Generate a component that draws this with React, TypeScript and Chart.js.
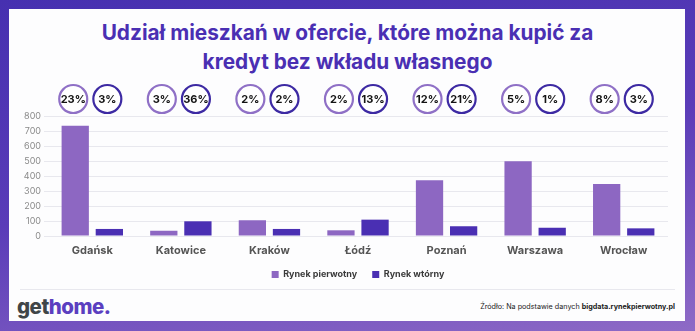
import React, { useEffect, useRef } from "react";
import { Chart, registerables } from "chart.js";

Chart.register(...registerables);

const categories = ["Gdańsk", "Katowice", "Kraków", "Łódź", "Poznań", "Warszawa", "Wrocław"];
const primaryValues = [735, 35, 105, 38, 371, 498, 347];
const secondaryValues = [47, 98, 47, 109, 65, 55, 51];
const primaryShare = ["23%", "3%", "2%", "2%", "12%", "5%", "8%"];
const secondaryShare = ["3%", "36%", "2%", "13%", "21%", "1%", "3%"];
const seriesNames = ["Rynek pierwotny", "Rynek wtórny"];

const PRIMARY = "#8d67c2";
const SECONDARY = "#4a2fb3";
const FONT = "Inter, 'Noto Sans', sans-serif";

const circlesPlugin = {
  id: "shareCircles",
  afterLayout(chart: any) {
    // center the legend on the plot area
    if (chart.legend) {
      chart.legend.left = chart.chartArea.left;
      chart.legend.right = chart.chartArea.right;
    }
  },
  afterDatasetsDraw(chart: any) {
    const ctx = chart.ctx;
    const shares = [primaryShare, secondaryShare];
    const borders = ["#8f70c6", "#3d2aa3"];
    const y = chart.chartArea.top - 17;
    chart.data.datasets.forEach((_: any, di: number) => {
      const meta = chart.getDatasetMeta(di);
      meta.data.forEach((bar: any, i: number) => {
        ctx.save();
        ctx.beginPath();
        ctx.arc(bar.x - 2, y, 14, 0, Math.PI * 2);
        ctx.fillStyle = "#ffffff";
        ctx.fill();
        ctx.lineWidth = 2.2;
        ctx.strokeStyle = borders[di];
        ctx.stroke();
        ctx.fillStyle = "#141414";
        ctx.font = `700 11px ${FONT}`;
        ctx.textAlign = "center";
        ctx.textBaseline = "middle";
        ctx.fillText(shares[di][i], bar.x - 2, y + 1);
        ctx.restore();
      });
    });
  },
};

function BarChart() {
  const ref = useRef<HTMLCanvasElement | null>(null);
  useEffect(() => {
    if (!ref.current) return;
    const chart = new Chart(ref.current, {
      type: "bar",
      data: {
        labels: categories,
        datasets: [
          { label: seriesNames[0], data: primaryValues, backgroundColor: PRIMARY },
          { label: seriesNames[1], data: secondaryValues, backgroundColor: SECONDARY },
        ],
      },
      options: {
        animation: false,
        responsive: false,
        maintainAspectRatio: false,
        layout: { padding: { top: 36, right: 17, left: 0, bottom: 0 } },
        datasets: { bar: { categoryPercentage: 0.77, barPercentage: 0.8 } } as any,
        plugins: {
          tooltip: { enabled: false },
          legend: {
            position: "bottom",
            maxHeight: 30,
            labels: {
              boxWidth: 7,
              boxHeight: 7,
              padding: 15,
              color: "#3a3a3a",
              font: { family: FONT, size: 9, weight: "bold" as any },
            },
          },
        },
        scales: {
          x: {
            afterFit: (s: any) => {
              s.height = 19;
            },
            grid: { display: false, drawTicks: false },
            border: { display: false },
            ticks: {
              color: "#555555",
              padding: 8,
              font: { family: FONT, size: 11, weight: "bold" as any },
            },
          },
          y: {
            min: 0,
            max: 800,
            afterFit: (s: any) => {
              s.width = 39;
            },
            grid: { color: "#e8e8ee", tickLength: 4, lineWidth: 1 },
            border: { display: false },
            ticks: {
              stepSize: 100,
              autoSkip: false,
              padding: 3,
              color: "#8a8a8a",
              font: { family: FONT, size: 9 },
            },
          },
        },
      },
      plugins: [circlesPlugin],
    });
    return () => chart.destroy();
  }, []);
  return <canvas ref={ref} width={676} height={205} style={{ position: "absolute", left: 9, top: 80 }} />;
}

export default function App() {
  return (
    <div
      style={{
        position: "fixed",
        left: 0,
        top: 0,
        width: 695,
        height: 331,
        background: "linear-gradient(170deg, #4630b0 0%, #5a3cb8 50%, #8e6ac6 100%)",
        fontFamily: FONT,
        overflow: "hidden",
      }}
    >
      <div
        style={{
          position: "absolute",
          left: 9,
          top: 9,
          width: 676,
          height: 312,
          background: "#fdfdfe",
        }}
      />
      <div
        style={{
          position: "absolute",
          left: 0,
          top: 18,
          width: 695,
          textAlign: "center",
          color: "#4a2fb3",
          fontWeight: 700,
          fontSize: 20.8,
          lineHeight: "29px",
        }}
      >
        Udział mieszkań w ofercie, które można kupić za
        <br />
        kredyt bez wkładu własnego
      </div>
      <BarChart />
      <div style={{ position: "absolute", left: 20, top: 289, width: 655, height: 1, background: "#e8e8ee" }} />
      <div
        style={{
          position: "absolute",
          left: 17,
          top: 295,
          fontSize: 20.5,
          fontWeight: 800,
          letterSpacing: "-0.5px",
          lineHeight: "24px",
        }}
      >
        <span style={{ color: "#3f4548" }}>get</span>
        <span style={{ color: "#5b3fc0" }}>home.</span>
      </div>
      <div
        style={{
          position: "absolute",
          right: 20,
          top: 301,
          fontSize: 7.2,
          color: "#222",
          lineHeight: "12px",
          whiteSpace: "nowrap",
        }}
      >
        Źródło: Na podstawie danych <b>bigdata.rynekpierwotny.pl</b>
      </div>
    </div>
  );
}
